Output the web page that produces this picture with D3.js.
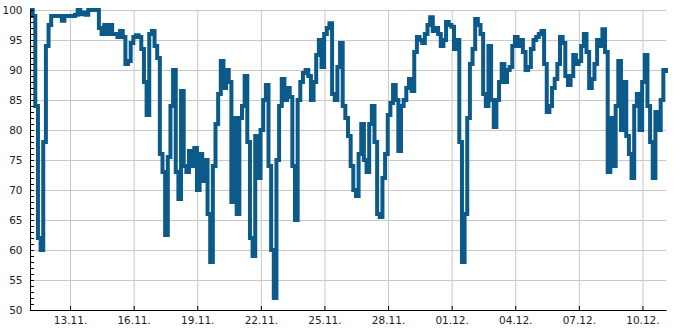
<!DOCTYPE html>
<html>
<head>
<meta charset="utf-8">
<script src="https://cdnjs.cloudflare.com/ajax/libs/d3/7.8.5/d3.min.js"></script>
<style>
body { margin: 0; background: #fff; }
svg { display: block; font-family: "DejaVu Sans", sans-serif; }
</style>
</head>
<body>
<svg id="chart"></svg>
<script>
/////////////////////////////////////////////////
///////////////////Data//////////////////////////
/////////////////////////////////////////////////

// one reading every 3 hours, starting 11.11. 02:40
var startTime = new Date(2023, 10, 11, 2, 40);
var endTime = new Date(2023, 11, 11, 2, 40);
var stepHours = 3;

var values = [
  100, 99, 84, 62, 60, 78, 94, 97.5, 99, 99,
  99, 99, 98.2, 99, 99, 99, 99, 99.2, 100, 99.3,
  99.6, 99.2, 100, 100, 100, 100, 97, 96, 97.5, 96,
  97.5, 96, 96, 95.5, 96.5, 95.5, 91, 91.5, 94.5, 95.5,
  95.8, 95.5, 93.5, 88, 82.5, 96, 96.5, 94, 92, 76,
  73, 62.5, 75.5, 84, 90, 73, 68.5, 86.5, 74, 73,
  76.5, 74, 77, 70, 76, 71.5, 75, 66, 58, 74,
  81, 86, 91.5, 87, 90, 88, 68, 82, 66, 82,
  84, 89, 78, 62, 59, 79, 72, 80, 85, 87.5,
  74, 60, 52, 75, 84, 88.5, 85, 87, 85.5, 74,
  65, 85, 88, 89.5, 90, 89, 85, 88, 92.5, 95,
  90.5, 96, 97, 97.8, 86, 85, 90.5, 94.5, 84, 82,
  79, 74, 70, 69, 76, 81, 75, 73, 81, 84,
  78, 66, 65.5, 72, 76, 82.5, 84.5, 87.5, 85, 76.5,
  84, 85, 87, 88.5, 86.5, 93, 95.5, 95, 94.5, 96,
  97.5, 98.8, 96.5, 97, 96, 94, 95, 98, 97.5, 97.2,
  93.5, 95, 78, 58, 66, 82, 91, 93.5, 98.5, 97.5,
  96, 86, 84, 94, 85, 80.5, 85, 88, 91, 88,
  90, 90.5, 94, 95.5, 94, 95, 93, 90, 90.5, 93.5,
  95, 95.5, 96, 96.5, 91, 83, 84, 87, 88.5, 91,
  95.5, 94.5, 89, 87.5, 89, 92.5, 91, 91.5, 94, 96,
  93, 87, 88.5, 91, 95, 94, 96.8, 93, 73, 82,
  74, 84, 91.5, 80, 88, 79, 76, 72, 84, 86,
  80, 88, 92.5, 84, 78, 72, 83, 80, 85, 90,
  89.5
];

var xTickDates = ["2023-11-13", "2023-11-16", "2023-11-19", "2023-11-22", "2023-11-25",
  "2023-11-28", "2023-12-01", "2023-12-04", "2023-12-07", "2023-12-10"];
var yTickLabels = [50, 55, 60, 65, 70, 75, 80, 85, 90, 95, 100];

/////////////////////////////////////////////////
///////////////////Chart/////////////////////////
/////////////////////////////////////////////////

var svgWidth = 685, svgHeight = 330;
var margin = {top: 10, right: 19, bottom: 20, left: 30};
var width = svgWidth - margin.left - margin.right;
var height = svgHeight - margin.top - margin.bottom;

var svg = d3.select("#chart")
.attr("width", svgWidth)
.attr("height", svgHeight);

var g = svg.append("g")
.attr("transform", "translate(" + margin.left + "," + margin.top + ")");

var parseDay = d3.timeParse("%Y-%m-%d");
var tickDates = xTickDates.map(parseDay);

var series = values.map(function (v, i) {
  return {time: d3.timeHour.offset(startTime, i * stepHours), value: v};
});

var xScale = d3.scaleTime()
.domain([startTime, endTime])
.range([0, width]);

var yScale = d3.scaleLinear()
.domain([50, 100])
.range([height, 0]);

// grid
g.append("g")
.attr("class", "grid")
.attr("transform", "translate(0," + height + ")")
.call(d3.axisBottom(xScale).tickValues(tickDates).tickSize(-height).tickFormat(""))
.call(function (s) { s.select(".domain").remove(); })
.selectAll("line").attr("stroke", "#c8c8c8");

g.append("g")
.attr("class", "grid")
.call(d3.axisLeft(yScale).tickValues(yTickLabels).tickSize(-width).tickFormat(""))
.call(function (s) { s.select(".domain").remove(); })
.selectAll("line").attr("stroke", "#c8c8c8");

// line
var line = d3.line()
.x(function (d) { return xScale(d.time); })
.y(function (d) { return yScale(d.value); })
.curve(d3.curveStepAfter);

g.append("path")
.datum(series)
.attr("d", line)
.attr("fill", "none")
.attr("stroke", "#0b5a8a")
.attr("stroke-width", 4)
.attr("stroke-linejoin", "miter");

// axes
g.append("g")
.call(d3.axisLeft(yScale).tickValues(d3.range(50, 101, 1)).tickSize(-4).tickFormat(""))
.call(function (s) { s.select(".domain").remove(); });

var yAxis = g.append("g")
.call(d3.axisLeft(yScale).tickValues(yTickLabels).tickSize(-4).tickSizeOuter(0).tickPadding(7.5));

var xAxis = g.append("g")
.attr("transform", "translate(0," + height + ")")
.call(d3.axisBottom(xScale).tickValues(tickDates).tickSize(-4).tickSizeOuter(0).tickPadding(6.5)
  .tickFormat(d3.timeFormat("%d.%m.")));

svg.selectAll(".tick text")
.style("font-size", "10.5px")
.style("font-family", "'DejaVu Sans', sans-serif")
.attr("fill", "#222");
</script>
</body>
</html>
